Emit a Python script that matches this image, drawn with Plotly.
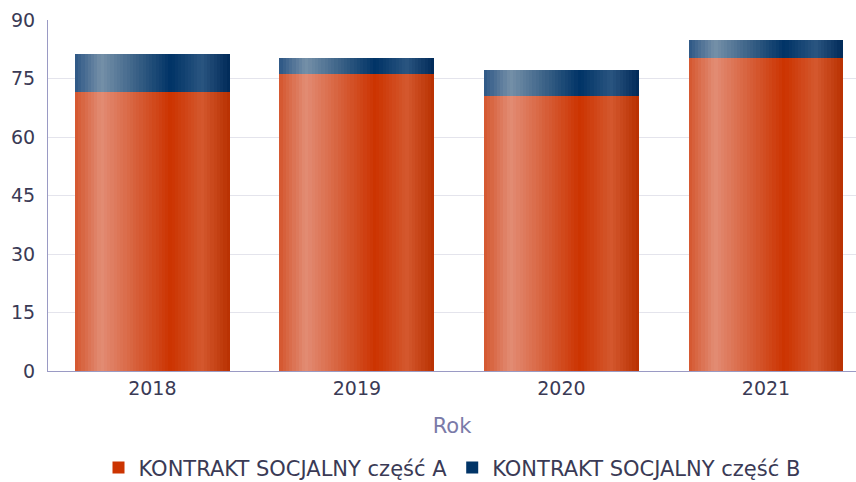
import plotly.graph_objects as go

years = ["2018", "2019", "2020", "2021"]
part_a = [71.6, 76.2, 70.5, 80.3]
part_b = [9.7, 4.1, 6.7, 4.6]
name_a = "KONTRAKT SOCJALNY część A"
name_b = "KONTRAKT SOCJALNY część B"

grad_a = [(0.0, (212, 86, 46)), (0.17, (226, 140, 116)), (0.62, (204, 51, 0)),
          (0.82, (212, 88, 46)), (1.0, (184, 48, 0))]
grad_b = [(0.0, (45, 87, 133)), (0.17, (117, 144, 168)), (0.62, (0, 51, 102)),
          (0.82, (42, 85, 128)), (1.0, (0, 42, 88))]

def interp(stops, t):
    for (t0, c0), (t1, c1) in zip(stops[:-1], stops[1:]):
        if t0 <= t <= t1:
            f = (t - t0) / (t1 - t0) if t1 > t0 else 0
            c = [round(a + (b - a) * f) for a, b in zip(c0, c1)]
            return "rgb(%d,%d,%d)" % tuple(c)
    return "rgb(%d,%d,%d)" % stops[-1][1]

W = 0.757
N = 48
sw = W / N
fig = go.Figure()
legend_idx = int(0.62 * N)
for grad, vals, base, name, rank in [(grad_a, part_a, None, name_a, 1),
                                     (grad_b, part_b, part_a, name_b, 2)]:
    for i in range(N):
        t = (i + 0.5) / N
        fig.add_trace(go.Bar(
            x=years, y=vals, base=base,
            width=sw * (1.15 if i < N - 1 else 1.0),
            offset=-W / 2 + i * sw,
            marker=dict(color=interp(grad, t), line=dict(width=0)),
            name=name, legendgroup=name, legendrank=rank,
            showlegend=(i == legend_idx),
            hovertemplate="%{x}: %{y}<extra>" + name + "</extra>",
        ))

fig.update_layout(
    barmode="overlay",
    width=856, height=482,
    margin=dict(l=48, r=0, t=20, b=111, autoexpand=False),
    plot_bgcolor="white", paper_bgcolor="white",
    font=dict(family="DejaVu Sans", color="#3a3a55", size=19),
    legend=dict(orientation="h", x=0.5, xanchor="center", y=-0.276, yanchor="middle",
                font=dict(size=21, color="#3a3a55"), traceorder="normal",
                itemwidth=30),
    bargap=0,
)
fig.update_xaxes(
    type="category", range=[-0.51, 3.44], automargin=False,
    showline=True, linecolor="#9a9ac4", linewidth=1,
    ticks="", showgrid=False,
    title=dict(text="Rok", font=dict(size=21, color="#7a7aa8"), standoff=20),
)
fig.update_yaxes(
    range=[0, 90], tickvals=[0, 15, 30, 45, 60, 75, 90], automargin=False,
    showline=True, linecolor="#9a9ac4", linewidth=1,
    gridcolor="#e4e4ec", gridwidth=1, zeroline=False,
    ticks="", ticklabelstandoff=8,
)
fig.write_html("out.html", config={"displayModeBar": False},
               post_script="document.body.style.margin='0';")
